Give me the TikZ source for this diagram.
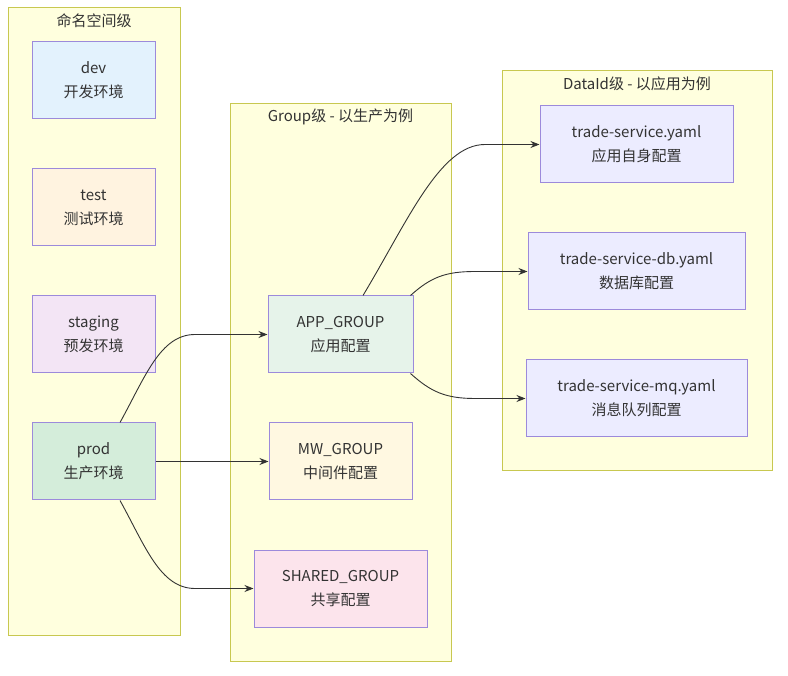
\documentclass[tikz,border=0pt]{standalone}
\usepackage{fontspec}
\setmainfont{Noto Sans CJK SC}
\usetikzlibrary{arrows.meta,calc}
\definecolor{clfill}{HTML}{FFFFDE}
\definecolor{cldraw}{HTML}{C8C850}
\definecolor{ndraw}{HTML}{9C8ADB}
\definecolor{txt}{HTML}{333333}
\definecolor{cdev}{HTML}{E3F2FD}
\definecolor{ctest}{HTML}{FFF3E0}
\definecolor{cstag}{HTML}{F3E5F5}
\definecolor{cprod}{HTML}{D4EDDA}
\definecolor{capp}{HTML}{E6F3EA}
\definecolor{cmw}{HTML}{FFF8E1}
\definecolor{cshared}{HTML}{FCE4EC}
\definecolor{cdata}{HTML}{ECECFF}
\tikzset{
  cluster/.style={draw=cldraw, fill=clfill, line width=1pt},
  cltitle/.style={text=txt, font=\fontsize{15}{18}\selectfont, inner sep=0pt},
  box/.style={draw=ndraw, line width=1pt, text=txt, align=center,
    font=\fontsize{15}{24}\selectfont, minimum height=77pt, inner sep=0pt},
  conn/.style={draw=txt, line width=0.9pt, -{Stealth[length=9pt,width=7pt]}}
}
\begin{document}
\begin{tikzpicture}[x=1pt,y=-1pt]
\useasboundingbox (0,0) rectangle (788,676);
% clusters
\draw[cluster] (8,8) rectangle (180,635);
\node[cltitle] (t1) at (94,21) {命名空间级};
\draw[cluster] (230,104) rectangle (451,661);
\node[cltitle] (t2) at (340.5,117) {Group级 - 以生产为例};
\draw[cluster] (502,71) rectangle (772,471);
\node[cltitle] (t3) at (637,84) {DataId级 - 以应用为例};
% namespace nodes
\node[box, fill=cdev, minimum width=123pt] (dev) at (93.5,80.5) {dev\\开发环境};
\node[box, fill=ctest, minimum width=123pt] (test) at (93.5,207.5) {test\\测试环境};
\node[box, fill=cstag, minimum width=123pt] (staging) at (93.5,334.5) {staging\\预发环境};
\node[box, fill=cprod, minimum width=123pt] (prod) at (93.5,461.5) {prod\\生产环境};
% group nodes
\node[box, fill=capp, minimum width=145pt] (app) at (340.5,334.5) {APP\_GROUP\\应用配置};
\node[box, fill=cmw, minimum width=143pt] (mw) at (340.5,461.5) {MW\_GROUP\\中间件配置};
\node[box, fill=cshared, minimum width=173pt] (shared) at (340.5,588.5) {SHARED\_GROUP\\共享配置};
% dataid nodes
\node[box, fill=cdata, minimum width=193pt] (ts) at (636.5,144.5) {trade-service.yaml\\应用自身配置};
\node[box, fill=cdata, minimum width=217pt] (tsdb) at (636.5,271.5) {trade-service-db.yaml\\数据库配置};
\node[box, fill=cdata, minimum width=221pt] (tsmq) at (636.5,398.5) {trade-service-mq.yaml\\消息队列配置};
% connectors
\draw[conn] ([xshift=26.5pt]prod.north) .. controls +(25,-45) and (160,334.5) .. (195,334.5) -- (app.west);
\draw[conn] (prod.east) -- (mw.west);
\draw[conn] ([xshift=26.5pt]prod.south) .. controls +(25,45) and (160,588.5) .. (195,588.5) -- (shared.west);
\draw[conn] ([xshift=22.5pt]app.north) .. controls +(45,-75) and (440,144.5) .. (485,144.5) -- (ts.west);
\draw[conn] ([xshift=70pt]app.north) .. controls +(20,-18) and (445,271.5) .. (475,271.5) -- (tsdb.west);
\draw[conn] ([xshift=70pt]app.south) .. controls +(20,18) and (445,398.5) .. (475,398.5) -- (tsmq.west);
\end{tikzpicture}
\end{document}
